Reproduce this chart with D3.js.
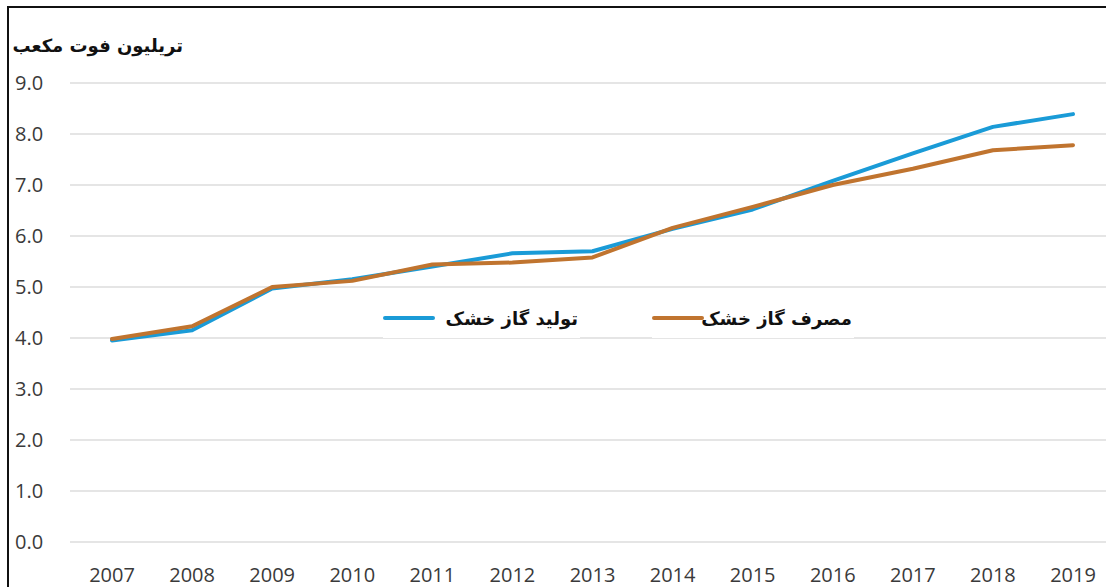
<!DOCTYPE html>
<html>
<head>
<meta charset="utf-8">
<script src="https://cdn.jsdelivr.net/npm/d3@7"></script>
<style>
  body { margin: 0; background: #fff; }
  svg { display: block; }
</style>
</head>
<body>
<div id="chart"></div>
<script>
const width = 1106;
const height = 587;

// dati
const years = [2007, 2008, 2009, 2010, 2011, 2012, 2013, 2014, 2015, 2016, 2017, 2018, 2019];
const production = [3.95, 4.15, 4.97, 5.15, 5.40, 5.66, 5.70, 6.14, 6.52, 7.08, 7.62, 8.14, 8.39];
const consumption = [3.98, 4.23, 5.00, 5.12, 5.44, 5.48, 5.58, 6.16, 6.57, 7.00, 7.32, 7.68, 7.78];
const yTicks = [0, 1, 2, 3, 4, 5, 6, 7, 8, 9];
const unitLabel = "تریلیون فوت مکعب";
const seriesNames = ["تولید گاز خشک", "مصرف گاز خشک"];
const colors = ["#1a9bd7", "#c0742f"];

const svg = d3.select("#chart")
  .append("svg")
  .attr("width", width)
  .attr("height", height);

// cornice
svg.append("rect")
  .attr("x", 8).attr("y", 7)
  .attr("width", width + 10).attr("height", height + 10)
  .attr("fill", "#fff")
  .attr("stroke", "#111")
  .attr("stroke-width", 2);

const x = d3.scalePoint()
  .domain(years)
  .range([112, 1073]);

const y = d3.scaleLinear()
  .domain([0, 9])
  .range([542, 83]);

// griglia
svg.append("g")
  .selectAll("line")
  .data(yTicks)
  .enter().append("line")
  .attr("x1", 70)
  .attr("x2", width)
  .attr("y1", d => y(d))
  .attr("y2", d => y(d))
  .attr("stroke", "#dcdcdc")
  .attr("stroke-width", 1.5);

// etichette asse y
svg.append("g")
  .selectAll("text")
  .data(yTicks)
  .enter().append("text")
  .attr("x", 15)
  .attr("y", d => y(d) + 7)
  .attr("font-family", "Open Sans, DejaVu Sans, sans-serif")
  .attr("font-size", 20)
  .attr("fill", "#3a3a3a")
  .text(d => d3.format(".1f")(d));

// etichette asse x
svg.append("g")
  .selectAll("text")
  .data(years)
  .enter().append("text")
  .attr("x", d => x(d))
  .attr("y", 582)
  .attr("text-anchor", "middle")
  .attr("font-family", "Open Sans, DejaVu Sans, sans-serif")
  .attr("font-size", 20)
  .attr("fill", "#3a3a3a")
  .text(d => d);

// titolo unità
svg.append("text")
  .attr("x", 183)
  .attr("y", 52)
  .attr("text-anchor", "start")
  .attr("direction", "rtl")
  .attr("font-family", "DejaVu Sans, Noto Sans, sans-serif")
  .attr("font-size", 18)
  .attr("font-weight", "bold")
  .attr("fill", "#111")
  .text(unitLabel);

// legenda
const legendItems = [
  { name: seriesNames[0], color: colors[0], x0: 385, x1: 433, tx: 578 },
  { name: seriesNames[1], color: colors[1], x0: 654, x1: 702, tx: 852 }
];

const legend = svg.append("g");
legendItems.forEach(it => {
  legend.append("rect")
    .attr("x", it.x0 - 2).attr("y", 300)
    .attr("width", it.tx - it.x0 + 4).attr("height", 38)
    .attr("fill", "#fff");
  legend.append("line")
    .attr("x1", it.x0).attr("x2", it.x1)
    .attr("y1", 318).attr("y2", 318)
    .attr("stroke", it.color)
    .attr("stroke-width", 4)
    .attr("stroke-linecap", "round");
  legend.append("text")
    .attr("x", it.tx)
    .attr("y", 325)
    .attr("direction", "rtl")
    .attr("text-anchor", "start")
    .attr("font-family", "DejaVu Sans, Noto Sans, sans-serif")
    .attr("font-size", 18)
    .attr("font-weight", "bold")
    .attr("fill", "#111")
    .text(it.name);
});

// linee
const line = d3.line()
  .x((d, i) => x(years[i]))
  .y(d => y(d));

[production, consumption].forEach((s, k) => {
  svg.append("path")
    .datum(s)
    .attr("fill", "none")
    .attr("stroke", colors[k])
    .attr("stroke-width", 4)
    .attr("stroke-linejoin", "round")
    .attr("stroke-linecap", "round")
    .attr("d", line);
});
</script>
</body>
</html>
